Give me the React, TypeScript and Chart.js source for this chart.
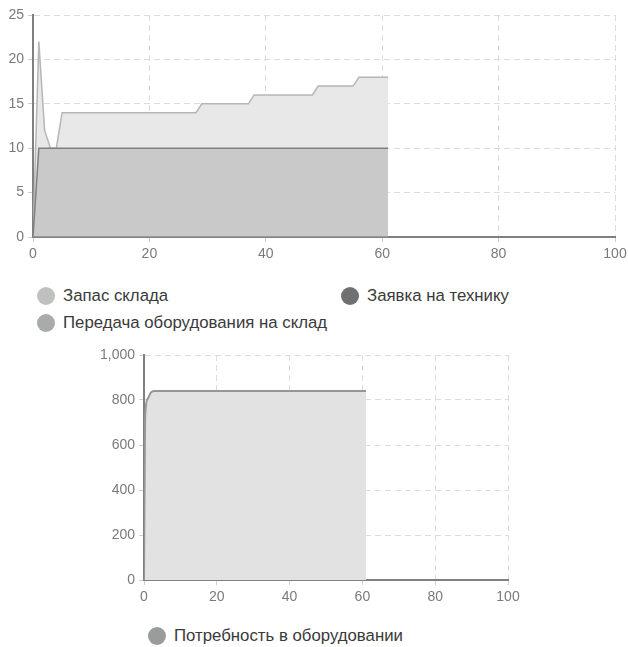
import React, { useEffect, useRef } from "react";
import { Chart, registerables } from "chart.js";

Chart.register(...registerables);

// ---- data (top chart) ----
const stockX = [0, 1, 2, 3, 4, 5, 28, 29, 37, 38, 48, 49, 55, 56, 61];
const stockY = [0, 22, 12, 10, 10, 14, 14, 15, 15, 16, 16, 17, 17, 18, 18];
const requestX = [0, 1, 61];
const requestY = [0, 10, 10];
const transferX = [0, 61];
const transferY = [0, 0];

// ---- data (bottom chart) ----
const needX = [0, 0.3, 1, 2, 3, 61];
const needY = [0, 720, 805, 835, 840, 840];

// ---- axes ----
const xMin = 0;
const xMax = 100;
const xStep = 20;
const topYMax = 25;
const topYStep = 5;
const bottomYMax = 1000;
const bottomYStep = 200;

// ---- labels ----
const topLabels = ["Запас склада", "Заявка на технику", "Передача оборудования на склад"];
const bottomLabels = ["Потребность в оборудовании"];

const FONT = "'Liberation Sans', Arial, Helvetica, sans-serif";

const toPoints = (xs: number[], ys: number[]) => xs.map((x, i) => ({ x, y: ys[i] }));

function makeScales(yMax: number, yStep: number, yWidth: number, xHeight: number) {
  const grid = { color: "#dcdcdc", lineWidth: 1, tickLength: 5, tickColor: "#cfcfcf" };
  const border = { display: true, color: "#808080", width: 2, dash: [6, 4] };
  const ticks = { color: "#7a7a7a", padding: 4, font: { size: 14, family: FONT } };
  return {
    x: {
      type: "linear" as const,
      min: xMin,
      max: xMax,
      ticks: { ...ticks, stepSize: xStep, maxRotation: 0 },
      grid,
      border,
      afterFit: (s: any) => {
        s.height = xHeight;
      },
    },
    y: {
      type: "linear" as const,
      min: 0,
      max: yMax,
      ticks: { ...ticks, stepSize: yStep },
      grid,
      border,
      afterFit: (s: any) => {
        s.width = yWidth;
      },
    },
  };
}

function TopChart() {
  const ref = useRef<HTMLCanvasElement>(null);
  useEffect(() => {
    const chart = new Chart(ref.current!, {
      type: "line",
      data: {
        datasets: [
          {
            label: topLabels[2],
            data: toPoints(transferX, transferY),
            borderColor: "#9a9b9b",
            backgroundColor: "#a9abab",
            borderWidth: 2,
            pointRadius: 0,
            fill: false,
          },
          {
            label: topLabels[1],
            data: toPoints(requestX, requestY),
            borderColor: "#7e7f80",
            backgroundColor: "#c9c9c9",
            borderWidth: 1.5,
            pointRadius: 0,
            fill: "origin",
          },
          {
            label: topLabels[0],
            data: toPoints(stockX, stockY),
            borderColor: "#b5b6b5",
            backgroundColor: "#e7e8e7",
            borderWidth: 1.5,
            pointRadius: 0,
            fill: "origin",
          },
        ],
      },
      options: {
        responsive: false,
        animation: false,
        locale: "en-US",
        layout: { padding: { left: 0, top: 15, right: 25, bottom: 0 } },
        plugins: { legend: { display: false }, tooltip: { enabled: false } },
        scales: makeScales(topYMax, topYStep, 33, 29) as any,
      },
    });
    return () => chart.destroy();
  }, []);
  return (
    <canvas
      ref={ref}
      width={640}
      height={266}
      style={{ position: "absolute", left: 0, top: 0, width: 640, height: 266 }}
    />
  );
}

function BottomChart() {
  const ref = useRef<HTMLCanvasElement>(null);
  useEffect(() => {
    const chart = new Chart(ref.current!, {
      type: "line",
      data: {
        datasets: [
          {
            label: bottomLabels[0],
            data: toPoints(needX, needY),
            borderColor: "#959696",
            backgroundColor: "#e2e2e2",
            borderWidth: 2,
            pointRadius: 0,
            cubicInterpolationMode: "monotone",
            fill: "origin",
          },
        ],
      },
      options: {
        responsive: false,
        animation: false,
        locale: "en-US",
        layout: { padding: { left: 0, top: 15, right: 22, bottom: 0 } },
        plugins: { legend: { display: false }, tooltip: { enabled: false } },
        scales: makeScales(bottomYMax, bottomYStep, 54, 30) as any,
      },
    });
    return () => chart.destroy();
  }, []);
  return (
    <canvas
      ref={ref}
      width={440}
      height={270}
      style={{ position: "absolute", left: 90, top: 340, width: 440, height: 270 }}
    />
  );
}

function LegendItem(props: { label: string; color: string; left: number; cy: number }) {
  return (
    <div
      style={{
        position: "absolute",
        left: props.left,
        top: props.cy - 12,
        height: 24,
        display: "flex",
        alignItems: "center",
        whiteSpace: "nowrap",
        fontFamily: FONT,
        fontSize: 16.8,
        color: "#3a3a3a",
      }}
    >
      <span
        style={{
          display: "inline-block",
          width: 18,
          height: 18,
          borderRadius: "50%",
          background: props.color,
          marginRight: 8,
        }}
      />
      <span>{props.label}</span>
    </div>
  );
}

export default function App() {
  return (
    <div
      style={{
        position: "fixed",
        left: 0,
        top: 0,
        width: 628,
        height: 647,
        overflow: "hidden",
        background: "#fff",
      }}
    >
      <TopChart />
      <LegendItem label={topLabels[0]} color="#bfc1bf" left={37} cy={295.5} />
      <LegendItem label={topLabels[1]} color="#6f7072" left={341} cy={295.5} />
      <LegendItem label={topLabels[2]} color="#a9abab" left={37} cy={322.5} />
      <BottomChart />
      <LegendItem label={bottomLabels[0]} color="#9a9b9b" left={148} cy={636} />
    </div>
  );
}
